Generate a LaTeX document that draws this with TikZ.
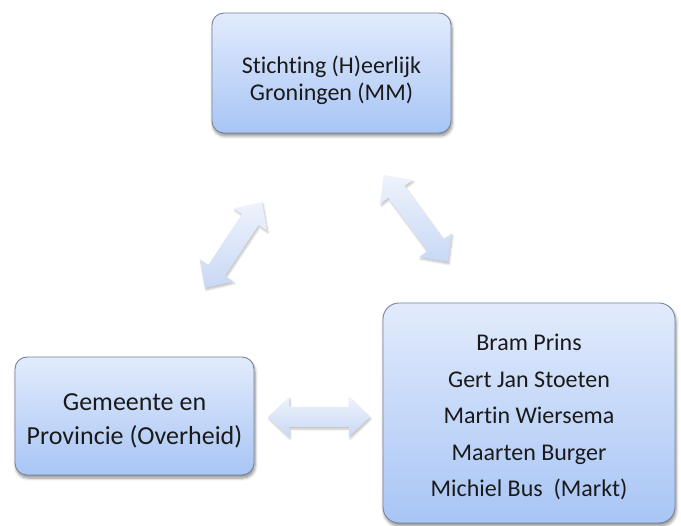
\documentclass[tikz,border=0pt]{standalone}
\usepackage{fontspec}
\setmainfont{Carlito}[Ligatures=NoCommon]
\usetikzlibrary{shadows.blur}
\definecolor{boxtop}{HTML}{E2EBFC}
\definecolor{boxbot}{HTML}{A8C5F5}
\definecolor{boxline}{HTML}{76859C}
\definecolor{arrtop}{HTML}{EEF3FC}
\definecolor{arrbot}{HTML}{C8D8F4}
\definecolor{txt}{HTML}{1A1A1A}
\tikzset{
  boxnode/.style={draw=boxline, line width=0.9pt, rounded corners=12pt,
    top color=boxtop, bottom color=boxbot, inner sep=0pt,
    blur shadow={shadow xshift=1pt, shadow yshift=-3pt, shadow blur steps=6,
      shadow opacity=45, shadow blur radius=3pt}},
  boxtext/.style={text=txt, align=center, inner sep=0pt},
  blockarrow/.style={top color=arrtop, bottom color=arrbot, draw=none,
    blur shadow={shadow xshift=1pt, shadow yshift=-2pt, shadow blur steps=5,
      shadow opacity=25, shadow blur radius=2pt}}
}
\begin{document}
\begin{tikzpicture}[x=1pt,y=-1pt]
\useasboundingbox (0,0) rectangle (681,526);
% boxes
\node[boxnode, minimum width=239pt, minimum height=120pt] (mm) at (331.5,73) {};
\node[boxtext, font=\fontsize{24}{27}\selectfont] (mmtext) at ([yshift=-7pt]mm.center)
  {Stichting (H)eerlijk\\Groningen (MM)};
\node[boxnode, minimum width=239pt, minimum height=118pt] (gov) at (134.5,416) {};
\node[boxtext, font=\fontsize{26}{34.5}\selectfont] (govtext) at ([yshift=-5pt]gov.center)
  {Gemeente en\\Provincie (Overheid)};
\node[boxnode, rounded corners=16pt, minimum width=292pt, minimum height=220pt] (mkt) at (529,413) {};
\node[boxtext, font=\fontsize{24}{36.5}\selectfont] (mkttext) at ([yshift=-4pt]mkt.center)
  {Bram Prins\\Gert Jan Stoeten\\Martin Wiersema\\Maarten Burger\\Michiel Bus\ \ (Markt)};
% block arrows
\begin{scope}[shift={(233.5,245)}, rotate=56.5]
\path[blockarrow] (-51.5,0) -- (-30.5,-20) -- (-30.5,-10) -- (30.5,-10) -- (30.5,-20) -- (51.5,0)
  -- (30.5,20) -- (30.5,10) -- (-30.5,10) -- (-30.5,20) -- cycle;
\end{scope}
\begin{scope}[shift={(416,218.5)}, rotate=-53.7]
\path[blockarrow] (-54,0) -- (-33,-20) -- (-33,-10) -- (33,-10) -- (33,-20) -- (54,0)
  -- (33,20) -- (33,10) -- (-33,10) -- (-33,20) -- cycle;
\end{scope}
\begin{scope}[shift={(319,417)}]
\path[blockarrow] (-51,0) -- (-30,-20) -- (-30,-10) -- (30,-10) -- (30,-20) -- (51,0)
  -- (30,20) -- (30,10) -- (-30,10) -- (-30,20) -- cycle;
\end{scope}
\end{tikzpicture}
\end{document}
